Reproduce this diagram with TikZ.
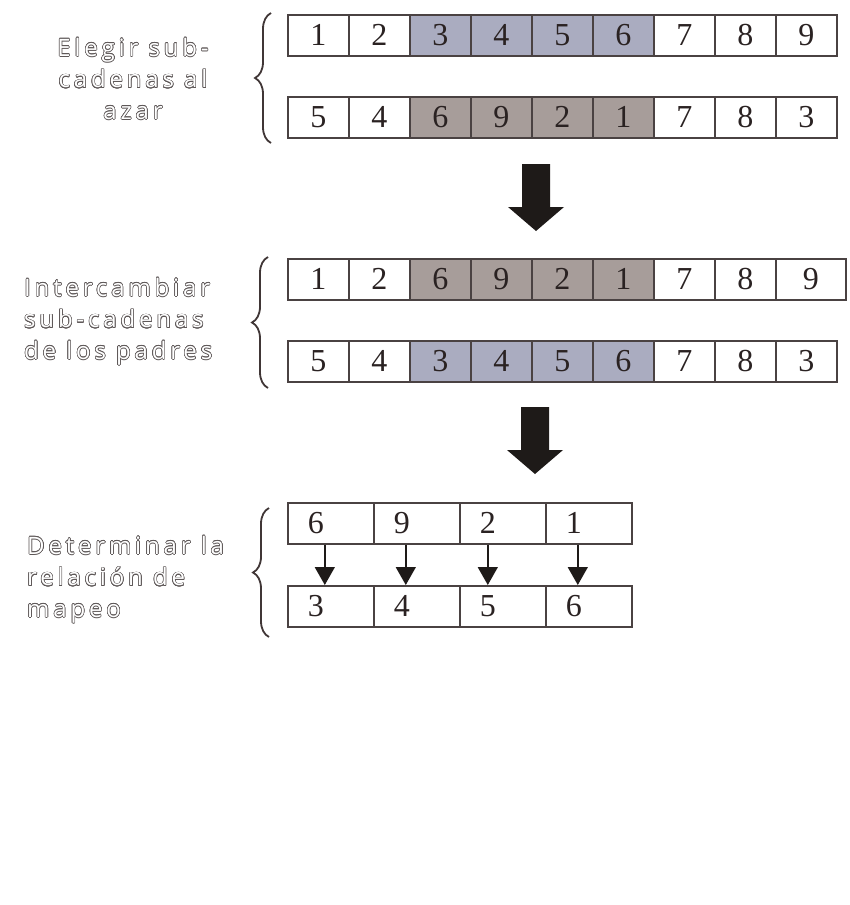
\documentclass[tikz,border=0pt]{standalone}
\usepackage{xcolor}
\usepackage{tikz}
\usepackage{fontspec}
\usepackage{contour}
\usetikzlibrary{arrows.meta, decorations.pathreplacing}

\newfontfamily\digitFont{Liberation Serif}
\newfontfamily\labelFont[LetterSpace=16]{Open Sans}

\definecolor{cellline}{HTML}{4A4242}
\definecolor{digit}{HTML}{2A2222}
\definecolor{bluegray}{HTML}{AAACC0}
\definecolor{browngray}{HTML}{A79D9A}
\definecolor{arrowdark}{HTML}{1E1A18}
\definecolor{outline}{HTML}{5E5858}
\definecolor{bracegray}{HTML}{403636}

\contourlength{0.6pt}

\tikzset{
	cell/.style = {below right, draw = cellline, line width = 1.6pt, fill = white, inner sep = 0pt, minimum width = 61pt, minimum height = 41pt, text = digit, font = \digitFont\fontsize{32}{32}\selectfont},
	subA/.style = {fill = bluegray},
	subB/.style = {fill = browngray},
	mapCell/.style = {minimum width = 86pt, text width = 46pt, inner xsep = 20pt, align = left},
	stageLabel/.style = {inner sep = 0pt, text = white, font = \labelFont\fontsize{24}{31.5}\selectfont},
	stageBrace/.style = {draw = bracegray, line width = 1.8pt, decorate, decoration = {brace, amplitude = 16pt, aspect = 0.5}},
	blockArrow/.style = {fill = arrowdark},
	mapArrow/.style = {draw = arrowdark, line width = 1.5pt, -{Triangle[width = 20pt, length = 18pt]}},
}

\newcommand{\geneNode}[5][]{
	\node[cell, #1] (#2) at (#3, #4) {#5};
}
\newcommand{\bigArrow}[2]{
	\fill[blockArrow] (#1, #2) -- ++(28, 0) -- ++(0, 43) -- ++(14, 0) -- ++(-28, 24) -- ++(-28, -24) -- ++(14, 0) -- cycle;
}
\newcommand{\stageText}[1]{\contour{outline}{#1}}

\begin{document}
\begin{tikzpicture}[x = 1pt, y = -1pt]%
		\useasboundingbox (0, 0) rectangle (850, 905);

		% choose sub-strings
		\node[stageLabel, anchor = north, align = center] (chooseLabel) at (133, 38) {\stageText{Elegir sub-}\\\stageText{cadenas al}\\\stageText{azar}};
		\draw[stageBrace] (271, 143) -- (271, 13);

		% parent a
		\geneNode{pa1}{287}{14}{1}
		\geneNode{pa2}{348}{14}{2}
		\geneNode[subA]{pa3}{409}{14}{3}
		\geneNode[subA]{pa4}{470}{14}{4}
		\geneNode[subA]{pa5}{531}{14}{5}
		\geneNode[subA]{pa6}{592}{14}{6}
		\geneNode{pa7}{653}{14}{7}
		\geneNode{pa8}{714}{14}{8}
		\geneNode{pa9}{775}{14}{9}

		% parent b
		\geneNode{pb1}{287}{96}{5}
		\geneNode{pb2}{348}{96}{4}
		\geneNode[subB]{pb3}{409}{96}{6}
		\geneNode[subB]{pb4}{470}{96}{9}
		\geneNode[subB]{pb5}{531}{96}{2}
		\geneNode[subB]{pb6}{592}{96}{1}
		\geneNode{pb7}{653}{96}{7}
		\geneNode{pb8}{714}{96}{8}
		\geneNode{pb9}{775}{96}{3}

		\bigArrow{522}{164}

		% swap sub-strings
		\node[stageLabel, anchor = north west, align = left] (swapLabel) at (24, 278) {\stageText{Intercambiar}\\\stageText{sub-cadenas}\\\stageText{de los padres}};
		\draw[stageBrace] (268, 388) -- (268, 257);

		% child a
		\geneNode{ca1}{287}{258}{1}
		\geneNode{ca2}{348}{258}{2}
		\geneNode[subB]{ca3}{409}{258}{6}
		\geneNode[subB]{ca4}{470}{258}{9}
		\geneNode[subB]{ca5}{531}{258}{2}
		\geneNode[subB]{ca6}{592}{258}{1}
		\geneNode{ca7}{653}{258}{7}
		\geneNode{ca8}{714}{258}{8}
		\geneNode[minimum width = 70pt]{ca9}{775}{258}{9}

		% child b
		\geneNode{cb1}{287}{340}{5}
		\geneNode{cb2}{348}{340}{4}
		\geneNode[subA]{cb3}{409}{340}{3}
		\geneNode[subA]{cb4}{470}{340}{4}
		\geneNode[subA]{cb5}{531}{340}{5}
		\geneNode[subA]{cb6}{592}{340}{6}
		\geneNode{cb7}{653}{340}{7}
		\geneNode{cb8}{714}{340}{8}
		\geneNode{cb9}{775}{340}{3}

		\bigArrow{521}{407}

		% mapping
		\node[stageLabel, anchor = north west, align = left] (mapLabel) at (27, 536) {\stageText{Determinar la}\\\stageText{relación de}\\\stageText{mapeo}};
		\draw[stageBrace] (269, 637) -- (269, 508);

		\geneNode[mapCell]{ma1}{287}{502}{6}
		\geneNode[mapCell]{ma2}{373}{502}{9}
		\geneNode[mapCell]{ma3}{459}{502}{2}
		\geneNode[mapCell]{ma4}{545}{502}{1}

		\geneNode[mapCell]{mb1}{287}{585}{3}
		\geneNode[mapCell]{mb2}{373}{585}{4}
		\geneNode[mapCell]{mb3}{459}{585}{5}
		\geneNode[mapCell]{mb4}{545}{585}{6}

		\draw[mapArrow] ([xshift = -6pt]ma1.south) -- ([xshift = -6pt]mb1.north);
		\draw[mapArrow] ([xshift = -11pt]ma2.south) -- ([xshift = -11pt]mb2.north);
		\draw[mapArrow] ([xshift = -15pt]ma3.south) -- ([xshift = -15pt]mb3.north);
		\draw[mapArrow] ([xshift = -11pt]ma4.south) -- ([xshift = -11pt]mb4.north);
	\end{tikzpicture}
\end{document}
